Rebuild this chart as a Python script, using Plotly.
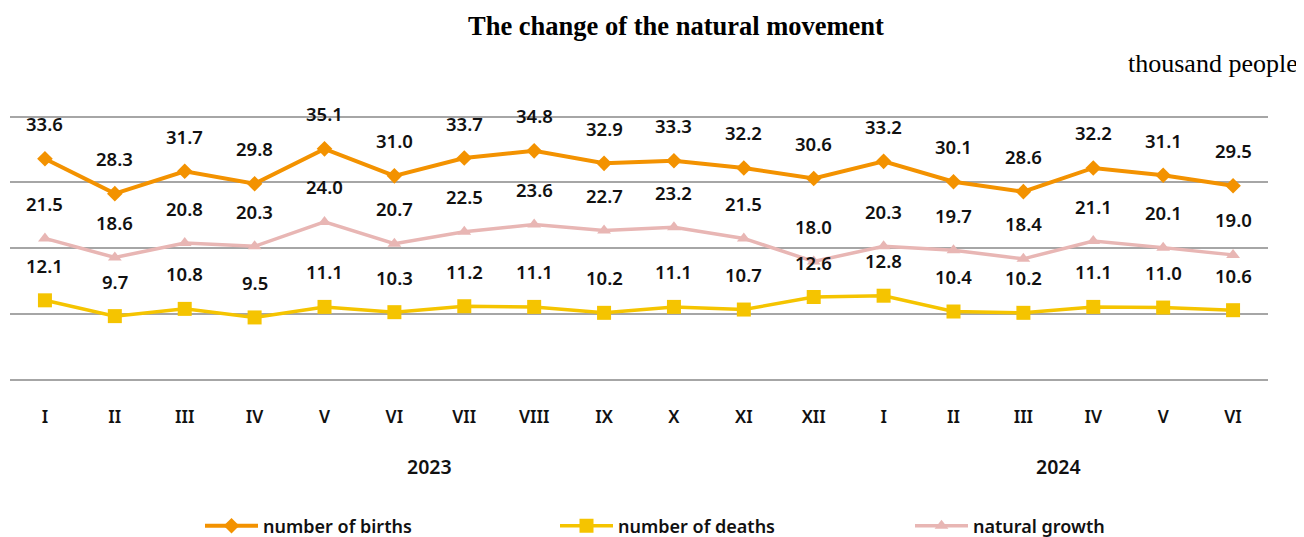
import plotly.graph_objects as go

months = ["I", "II", "III", "IV", "V", "VI", "VII", "VIII", "IX", "X", "XI", "XII",
          "I", "II", "III", "IV", "V", "VI"]
years = ["2023", "2024"]
year_centers = [5.5, 14.5]
births = [33.6, 28.3, 31.7, 29.8, 35.1, 31.0, 33.7, 34.8, 32.9, 33.3, 32.2, 30.6,
          33.2, 30.1, 28.6, 32.2, 31.1, 29.5]
deaths = [12.1, 9.7, 10.8, 9.5, 11.1, 10.3, 11.2, 11.1, 10.2, 11.1, 10.7, 12.6,
          12.8, 10.4, 10.2, 11.1, 11.0, 10.6]
growth = [21.5, 18.6, 20.8, 20.3, 24.0, 20.7, 22.5, 23.6, 22.7, 23.2, 21.5, 18.0,
          20.3, 19.7, 18.4, 21.1, 20.1, 19.0]

xs = list(range(len(months)))
SANS = "Noto Sans"
SERIF = "Liberation Serif"
W, H = 1304, 537
# figure-pixel layout (page adds an 8px body offset)
L, R, T, B = 2, 44, 102, 164
PW, PH = W - L - R, H - T - B

fig = go.Figure()
series = [
    ("number of births", births, "#F39200", "diamond", 12, 4),
    ("number of deaths", deaths, "#F5C400", "square", 14, 3.5),
    ("natural growth", growth, "#E8B6B4", "triangle-up", 12, 3.5),
]
for name, vals, color, sym, msize, lw in series:
    fig.add_trace(go.Scatter(
        x=xs, y=vals, name=name, mode="lines+markers",
        line=dict(color=color, width=lw),
        marker=dict(color=color, symbol=sym, size=msize),
    ))
    for xi, v in zip(xs, vals):
        fig.add_annotation(x=xi, y=v, text=f"{v:.1f}", showarrow=False,
                           yshift=35, font=dict(family=SANS, size=18.5, color="#111111", weight=600))

for yr, xc in zip(years, year_centers):
    fig.add_annotation(x=xc, y=-(460 - (H - B)) / PH, yref="paper", text=yr, showarrow=False,
                       yanchor="middle", font=dict(family=SANS, size=19.5, color="#111111", weight=600))

fig.add_annotation(x=(1292 - L) / PW, xref="paper", y=((H - B) - 55) / PH, yref="paper",
                   text="thousand people", showarrow=False, xanchor="right", yanchor="middle",
                   font=dict(family=SERIF, size=26, color="#000000"))

fig.update_layout(
    width=W, height=H,
    margin=dict(l=L, r=R, t=T, b=B),
    paper_bgcolor="white", plot_bgcolor="white",
    title=dict(text="<b>The change of the natural movement</b>", x=668 / W, xanchor="center",
               xref="container", y=1 - 18 / H, yanchor="middle",
               font=dict(family=SERIF, size=26.5, color="#000000")),
    xaxis=dict(tickmode="array", tickvals=xs, ticktext=months, range=[-0.5, len(months) - 0.5],
               showgrid=False, zeroline=False, showline=False, ticks="",
               ticklabelstandoff=24,
               tickfont=dict(family=SANS, size=17.5, color="#111111", weight=600)),
    yaxis=dict(range=[0, 41], tickvals=[0, 10, 20, 30, 40], showticklabels=False,
               showgrid=True, gridcolor="#A6A6A6", gridwidth=1.5,
               zeroline=True, zerolinecolor="#A6A6A6", zerolinewidth=1.5, showline=False),
    legend=dict(orientation="h", x=(192 - L) / PW, xanchor="left",
                y=-(518 - (H - B)) / PH, yanchor="middle",
                entrywidth=287, itemwidth=53, bgcolor="rgba(0,0,0,0)",
                font=dict(family=SANS, size=18, color="#111111", weight=600)),
)

fig.write_html("out.html")
